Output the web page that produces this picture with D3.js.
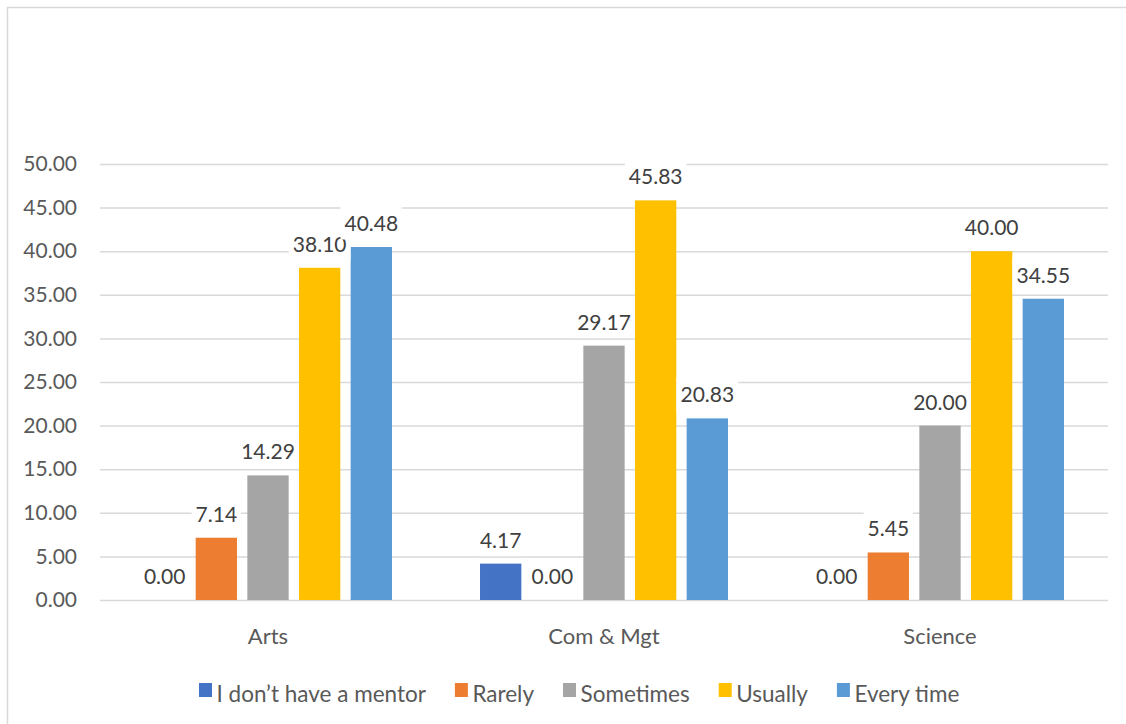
<!DOCTYPE html>
<html>
<head>
<meta charset="utf-8">
<script src="https://cdn.jsdelivr.net/npm/d3@7"></script>
<style>
  html, body { margin: 0; padding: 0; background: #fff; }
  svg { display: block; }
  text { font-family: Lato, "Open Sans", sans-serif; }
</style>
</head>
<body>
<svg id="chart" width="1126" height="724"></svg>
<script>
const categories = ["Arts", "Com & Mgt", "Science"];
const seriesNames = ["I don\u2019t have a mentor", "Rarely", "Sometimes", "Usually", "Every time"];
const seriesColors = ["#4472C4", "#ED7D31", "#A5A5A5", "#FFC000", "#5B9BD5"];
const noMentor = [0.00, 4.17, 0.00];
const rarely = [7.14, 0.00, 5.45];
const sometimes = [14.29, 29.17, 20.00];
const usually = [38.10, 45.83, 40.00];
const everyTime = [40.48, 20.83, 34.55];
const yTicks = [0, 5, 10, 15, 20, 25, 30, 35, 40, 45, 50];

const seriesValues = [noMentor, rarely, sometimes, usually, everyTime];

const svg = d3.select("#chart");
const W = 1126, H = 724;

// chart border (top and left visible)
svg.append("rect")
  .attr("x", 7.5).attr("y", 7.5)
  .attr("width", W + 20).attr("height", H + 20)
  .attr("fill", "#fff").attr("stroke", "#d9d9d9").attr("stroke-width", 1.5);

const plot = { left: 100, right: 1108, top: 164, bottom: 600 };

const y = d3.scaleLinear().domain([0, 50]).range([plot.bottom, plot.top]);
const x0 = d3.scaleBand().domain(categories).range([plot.left, plot.right])
  .paddingInner(0.262).paddingOuter(0.131);
const x1 = d3.scaleBand().domain(seriesNames).range([0, x0.bandwidth()]).paddingInner(0.2);

// gridlines + y labels
const yAxis = d3.axisLeft(y).tickValues(yTicks).tickFormat(d3.format(".2f"))
  .tickSize(-(plot.right - plot.left)).tickPadding(23);
const gy = svg.append("g").attr("transform", `translate(${plot.left},0)`).call(yAxis);
gy.select(".domain").remove();
gy.selectAll(".tick line").attr("stroke", "#d9d9d9").attr("stroke-width", 1.5);
gy.selectAll(".tick text").attr("fill", "#595959").style("font-size", "21px");

// x axis labels
const xAxis = d3.axisBottom(x0).tickSize(0);
const gx = svg.append("g").attr("transform", `translate(0,${plot.bottom})`).call(xAxis);
gx.select(".domain").remove();
gx.selectAll(".tick text").attr("fill", "#595959").style("font-size", "22px")
  .attr("y", 44).attr("dy", 0);

// bars
const rows = [];
categories.forEach((c, ci) => {
  seriesNames.forEach((s, si) => {
    rows.push({ cat: c, series: s, value: seriesValues[si][ci], color: seriesColors[si] });
  });
});

const barG = svg.append("g");
barG.selectAll("rect").data(rows).enter().append("rect")
  .attr("x", d => x0(d.cat) + x1(d.series))
  .attr("y", d => y(d.value))
  .attr("width", x1.bandwidth())
  .attr("height", d => y(0) - y(d.value))
  .attr("fill", d => d.color);

// data labels with white boxes
const labG = svg.append("g");
rows.forEach(d => {
  const cx = x0(d.cat) + x1(d.series) + x1.bandwidth() / 2;
  const base = y(d.value) - 16;
  const g = labG.append("g");
  const t = g.append("text")
    .attr("x", cx).attr("y", base)
    .attr("text-anchor", "middle")
    .attr("fill", "#404040").style("font-size", "21px")
    .text(d3.format(".2f")(d.value));
  const bb = t.node().getBBox();
  g.insert("rect", "text")
    .attr("x", bb.x - 4).attr("y", base - 24.5)
    .attr("width", bb.width + 8).attr("height", 33)
    .attr("fill", "#fff");
});

// legend
const leg = svg.append("g");
let lx = 199;
seriesNames.forEach((s, i) => {
  leg.append("rect").attr("x", lx).attr("y", 683).attr("width", 13).attr("height", 14)
    .attr("fill", seriesColors[i]);
  const t = leg.append("text").attr("x", lx + 17.5).attr("y", 702)
    .attr("fill", "#595959").style("font-size", "22.5px").text(s);
  lx += 17.5 + t.node().getComputedTextLength() + 29;
});
</script>
</body>
</html>
